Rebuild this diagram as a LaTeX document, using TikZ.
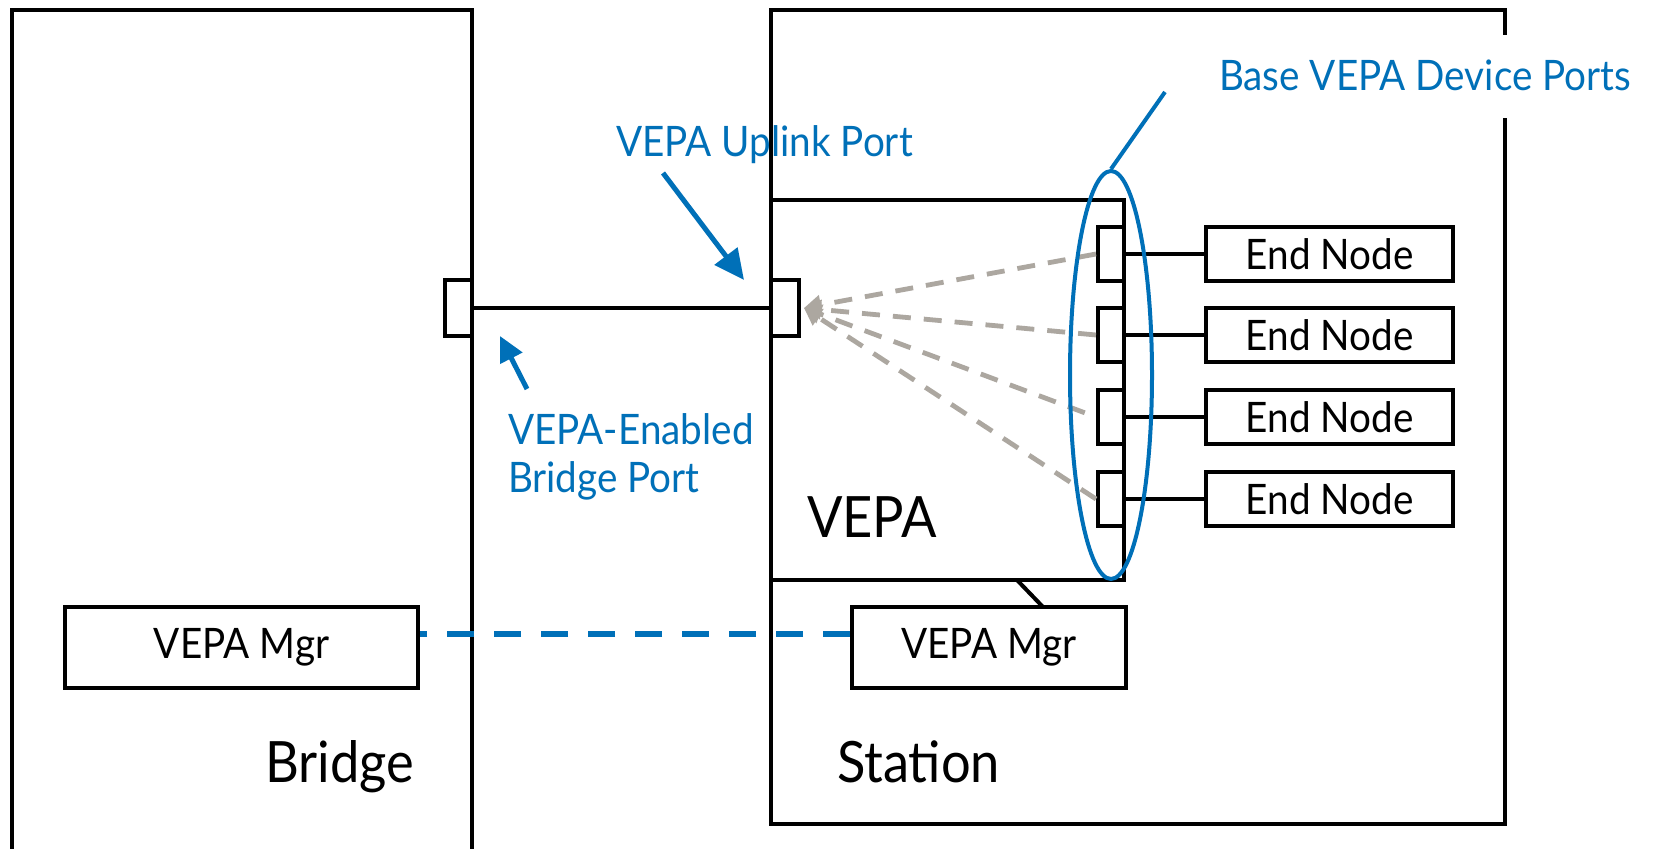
\documentclass[tikz,border=0pt]{standalone}
\usepackage{fontspec}
\setmainfont{Lato}[FakeStretch=0.92]
\usetikzlibrary{arrows.meta,shapes.geometric}
\definecolor{vblue}{RGB}{0,112,184}
\definecolor{fangray}{RGB}{172,167,160}
\newcommand{\vmedfont}{\fontsize{21}{25}\selectfont}
\newcommand{\vbigfont}{\fontsize{28.5}{34}\selectfont}
\begin{document}
\begin{tikzpicture}[x=0.5pt,y=-0.5pt,
  line width=2pt, line join=miter,
  box/.style={draw=black, line width=2pt, inner sep=0pt, rectangle, font=\vmedfont},
  portbox/.style={box, fill=white},
  lbl/.style={inner sep=0pt, font=\vmedfont, text=black},
  biglbl/.style={inner sep=0pt, font=\vbigfont, text=black},
  bluelbl/.style={inner sep=0pt, font=\vmedfont, text=vblue},
  bluearrow/.style={draw=vblue, line width=2.5pt, -{Triangle[length=15pt,width=14pt]}},
  fan/.style={draw=fangray, line width=2.4pt, dash pattern=on 9pt off 6.5pt, -{Triangle[length=8.5pt,width=9.5pt]}},
  mgrlink/.style={draw=vblue, line width=3pt, dash pattern=on 13.5pt off 10pt},
  bluering/.style={draw=vblue, line width=2pt, ellipse, inner sep=0pt}
]
\fill[white] (0,0) rectangle (1655,849);
\useasboundingbox (0,0) rectangle (1655,849);

% Bridge outline (open at bottom)
\draw (12,849) -- (12,10) -- (472,10) -- (472,849);
% Station outline (gap on the right for the label)
\draw (1505,35) -- (1505,10) -- (771,10) -- (771,824) -- (1505,824) -- (1505,118);

% VEPA box
\node[box, minimum width=176.5pt, minimum height=190pt] (vepa) at (947.5,390) {};
\node[biglbl, anchor=base west] (tVepa) at (805,538) {VEPA};

% ports
\node[portbox, minimum width=13.5pt, minimum height=28pt] (bport) at (458.5,308) {};
\node[portbox, minimum width=14pt, minimum height=28pt] (uport) at (785,308) {};
\draw (bport.east) -- (uport.west);

% device ports and end nodes
\foreach \i/\y in {1/254,2/335,3/417,4/499}{
  \node[portbox, minimum width=13pt, minimum height=27pt] (dp\i) at (1111,\y) {};
  \node[box, minimum width=123.5pt, minimum height=27pt] (en\i) at (1329.5,\y) {End Node};
  \draw (dp\i.east) -- (en\i.west);
}

% fan of dashed gray lines to the uplink port
\draw[fan] (dp1.west) -- ([xshift=1.5pt]uport.east);
\draw[fan] (dp2.west) -- ([xshift=1.5pt]uport.east);
\draw[fan, shorten <=6pt] (dp3.west) -- ([xshift=1.5pt]uport.east);
\draw[fan] (dp4.west) -- ([xshift=1.5pt]uport.east);

% ellipse around device ports
\node[bluering, minimum width=41pt, minimum height=204pt] (ring) at (1111,375) {};
\coordinate (ringtip) at (1165,92);
\draw[draw=vblue, line width=2pt] (ring.north) -- (ringtip);
\node[bluelbl, anchor=base west] (tBase) at (1217,91) {Base VEPA Device Ports};

% uplink label and arrow
\node[bluelbl, anchor=base west] (tUp) at (614,157) {VEPA Uplink Port};
\coordinate (upA) at (663,173);
\coordinate (upB) at (744,280);
\draw[bluearrow] (upA) -- (upB);

% bridge-port label and arrow
\node[bluelbl, anchor=base west] (tEn1) at (506,445) {VEPA-Enabled};
\node[bluelbl, anchor=base west] (tEn2) at (506,493) {Bridge Port};
\coordinate (bpA) at (527,389);
\coordinate (bpB) at (500,336);
\draw[draw=vblue, line width=2.5pt, -{Triangle[length=12.5pt,width=12pt]}] (bpA) -- (bpB);

% managers
\node[box, minimum width=176.5pt, minimum height=40.5pt] (mgrB) at (241.5,647.5) {VEPA Mgr};
\node[box, minimum width=137pt, minimum height=40.5pt] (mgrS) at (989,647.5) {VEPA Mgr};
\coordinate (yline) at (0,634);
\draw[mgrlink] (mgrS.west |- yline) -- (mgrB.east |- yline);
\coordinate (dgA) at (1017,580);
\coordinate (dgB) at (1043,607);
\draw (dgA) -- (dgB);

% box titles
\node[biglbl, anchor=base west] (tBridge) at (263,783) {Bridge};
\node[biglbl, anchor=base west] (tStation) at (835,783) {Station};
\end{tikzpicture}
\end{document}
